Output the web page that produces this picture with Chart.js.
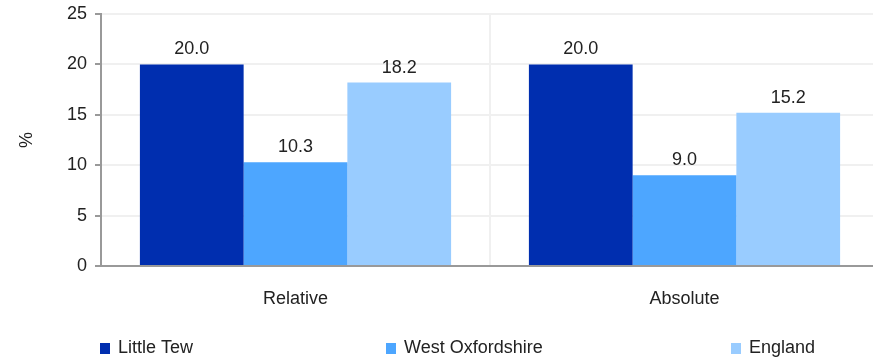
<!DOCTYPE html>
<html>
<head>
<meta charset="utf-8">
<script src="https://cdn.jsdelivr.net/npm/chart.js@4"></script>
<style>
  html, body { margin: 0; padding: 0; background: #fff; overflow: hidden; }
  #wrap { position: relative; width: 879px; height: 360px; }
</style>
</head>
<body>
<div id="wrap"><canvas id="mycanvas"></canvas></div>
<script>
// chart data
var categories = ['Relative', 'Absolute'];
var seriesNames = ['Little Tew', 'West Oxfordshire', 'England'];
var littleTew = [20.0, 20.0];
var westOxon = [10.3, 9.0];
var england = [18.2, 15.2];
var yTicks = [0, 5, 10, 15, 20, 25];

var colours = ['#002EAF', '#4DA6FF', '#99CCFF'];
var legendX = [100, 386, 731];

var font = "'Liberation Sans', Arial, sans-serif";

// value labels above each bar
var barLabels = {
  id: 'barLabels',
  afterDatasetsDraw: function (chart) {
    var ctx = chart.ctx;
    ctx.save();
    ctx.font = '18px ' + font;
    ctx.fillStyle = '#222';
    ctx.textAlign = 'center';
    ctx.textBaseline = 'bottom';
    chart.data.datasets.forEach(function (ds, i) {
      chart.getDatasetMeta(i).data.forEach(function (bar, j) {
        ctx.fillText(ds.data[j].toFixed(1), bar.x, bar.y - 6);
      });
    });
    ctx.restore();
  }
};

// legend spread along the bottom
var bottomLegend = {
  id: 'bottomLegend',
  afterDraw: function (chart) {
    var ctx = chart.ctx;
    ctx.save();
    ctx.font = '18px ' + font;
    ctx.textBaseline = 'middle';
    ctx.textAlign = 'left';
    chart.data.datasets.forEach(function (ds, i) {
      var x = legendX[i];
      ctx.fillStyle = ds.backgroundColor;
      ctx.fillRect(x, 343, 10, 11);
      ctx.fillStyle = '#222';
      ctx.fillText(ds.label, x + 18, 348);
    });
    ctx.restore();
  }
};

var ctx1 = document.getElementById('mycanvas');
new Chart(ctx1, {
  type: 'bar',
  data: {
    labels: categories,
    datasets: [
      { label: seriesNames[0], data: littleTew, backgroundColor: colours[0] },
      { label: seriesNames[1], data: westOxon, backgroundColor: colours[1] },
      { label: seriesNames[2], data: england, backgroundColor: colours[2] }
    ]
  },
  options: {
    responsive: true,
    maintainAspectRatio: false,
    animation: false,
    layout: { padding: { top: 0, right: 0, bottom: 50, left: 0 } },
    datasets: { bar: { categoryPercentage: 0.8, barPercentage: 1.0 } },
    plugins: {
      legend: { display: false },
      tooltip: { enabled: false }
    },
    scales: {
      x: {
        grid: { color: '#f0f0f0', lineWidth: 2, drawTicks: false, offset: true },
        border: { color: '#999', width: 2 },
        ticks: { color: '#222', font: { family: font, size: 18 }, padding: 22 },
        afterFit: function (scale) { scale.height = 44; }
      },
      y: {
        min: 0,
        max: 25,
        afterBuildTicks: function (scale) {
          scale.ticks = yTicks.map(function (v) { return { value: v }; });
        },
        grid: { color: '#f0f0f0', lineWidth: 2, tickColor: '#999', tickLength: 6 },
        border: { color: '#999', width: 2 },
        ticks: { color: '#222', font: { family: font, size: 18 }, padding: 8 },
        title: { display: true, text: '%', color: '#222', font: { family: font, size: 18 }, padding: { top: 16, bottom: 0 } },
        afterFit: function (scale) { scale.width = 101; scale.paddingTop = 14; }
      }
    }
  },
  plugins: [barLabels, bottomLegend]
});
</script>
</body>
</html>
